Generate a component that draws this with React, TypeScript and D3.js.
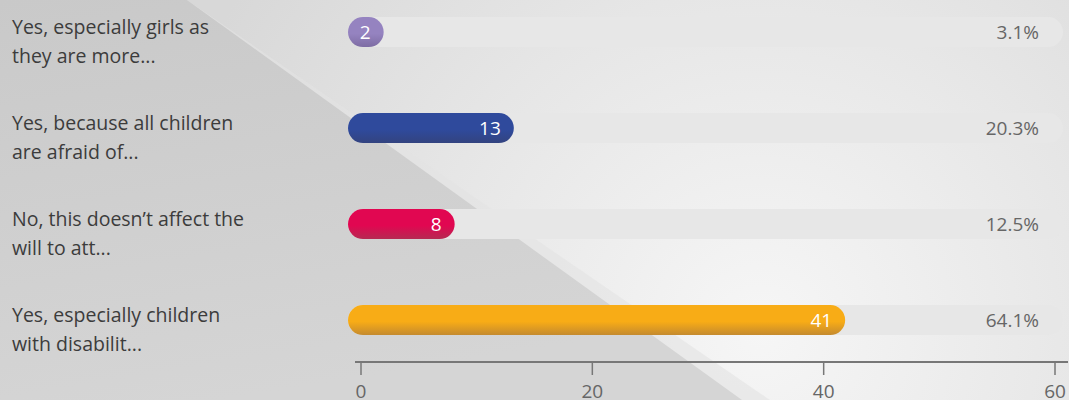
import React from "react";
import * as d3 from "d3";

const categories: string[][] = [
  ["Yes, especially girls as", "they are more..."],
  ["Yes, because all children", "are afraid of..."],
  ["No, this doesn’t affect the", "will to att..."],
  ["Yes, especially children", "with disabilit..."],
];
const counts: number[] = [2, 13, 8, 41];
const percents: string[] = ["3.1%", "20.3%", "12.5%", "64.1%"];
const colors: string[][] = [
  ["#9583c0", "#7d6ca3"],
  ["#2f4a9c", "#33437f"],
  ["#e10751", "#b52a52"],
  ["#f8ac16", "#c48a2f"],
];
const ticks: number[] = [0, 20, 40, 60];

const W = 1069;
const H = 400;

export default function App() {
  const x = d3.scaleLinear().domain([0, 60]).range([361, 1055]);
  const xb = d3.scaleLinear().domain([0, 60]).range([360, 1070]);
  const y = d3
    .scaleBand<number>()
    .domain(d3.range(categories.length))
    .range([-16, 368])
    .paddingInner(0.69)
    .paddingOuter(0.345);
  const bh = 30;
  const trackL = 348;
  const trackR = 1063;

  return (
    <svg
      width={W}
      height={H}
      style={{ position: "absolute", left: 0, top: 0, display: "block" }}
      fontFamily="'Open Sans', sans-serif"
    >
      <defs>
        <radialGradient id="bg" cx="760" cy="330" r="620" gradientUnits="userSpaceOnUse">
          <stop offset="0" stopColor="#f6f6f6" />
          <stop offset="0.55" stopColor="#e6e6e6" />
          <stop offset="1" stopColor="#d8d8d8" />
        </radialGradient>
        <linearGradient id="dark" x1="0" y1="0" x2="0.3" y2="1">
          <stop offset="0" stopColor="#c9c9c9" />
          <stop offset="1" stopColor="#d5d5d5" />
        </linearGradient>
        {colors.map((c, i) => (
          <linearGradient key={i} id={"bar" + i} x1="0" y1="0" x2="0" y2="1">
            <stop offset="0" stopColor={c[0]} />
            <stop offset="0.55" stopColor={c[0]} />
            <stop offset="1" stopColor={c[1]} />
          </linearGradient>
        ))}
      </defs>
      <rect x={0} y={0} width={W} height={H} fill="url(#bg)" />
      <polygon points="0,0 187,0 770,400 0,400" fill="#e2e2e2" opacity={0.6} />
      <polygon points="0,0 187,0 742,400 0,400" fill="url(#dark)" />

      {categories.map((lines, i) => {
        const cy = (y(i) as number) + bh / 2;
        return (
          <g key={i}>
            <text x={12} y={cy + 1.5} fill="#3c3c3c" fontSize={19.5}>
              {lines.map((l, j) => (
                <tspan key={j} x={12} dy={j === 0 ? 0 : 29}>
                  {l}
                </tspan>
              ))}
            </text>
            <rect
              x={trackL}
              y={y(i)}
              width={trackR - trackL}
              height={bh}
              rx={bh / 2}
              fill="#e7e7e7"
            />
            <rect
              x={trackL}
              y={y(i)}
              width={xb(counts[i]) - trackL}
              height={bh}
              rx={bh / 2}
              fill={`url(#bar${i})`}
            />
            <text
              x={xb(counts[i]) - 13}
              y={cy + 7}
              textAnchor="end"
              fill="#ffffff"
              fontSize={19}
            >
              {counts[i]}
            </text>
            <text x={1039} y={cy + 7} textAnchor="end" fill="#666666" fontSize={19}>
              {percents[i]}
            </text>
          </g>
        );
      })}

      <line x1={355} x2={1068} y1={362} y2={362} stroke="#777" strokeWidth={2} />
      {ticks.map((t) => (
        <g key={t} transform={`translate(${x(t)},0)`}>
          <line y1={362} y2={375} stroke="#777" strokeWidth={1.5} />
          <text y={398} textAnchor="middle" fill="#666" fontSize={19}>
            {t}
          </text>
        </g>
      ))}
    </svg>
  );
}
